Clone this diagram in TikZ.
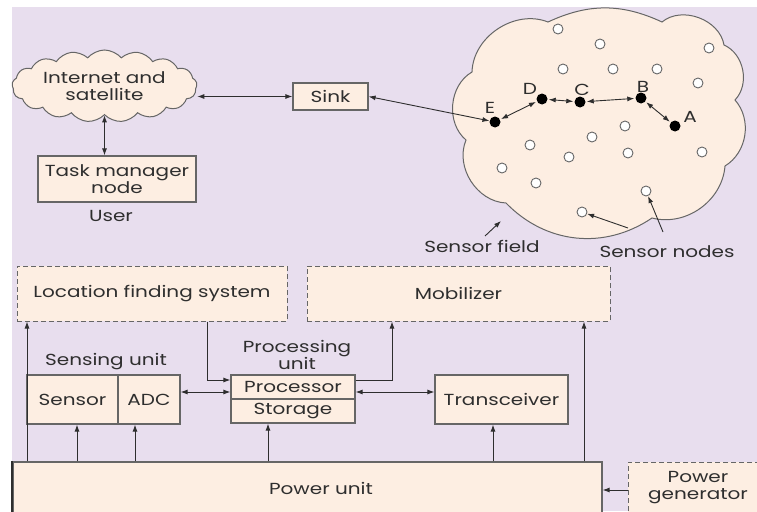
\documentclass[tikz,border=0pt]{standalone}
\usepackage{fontspec}
\setmainfont{Poppins}[FakeStretch=1.25]
\usetikzlibrary{shapes.symbols,arrows.meta,calc}
\definecolor{bg}{HTML}{E8DEEE}
\definecolor{peach}{HTML}{FDEEE2}
\definecolor{ink}{HTML}{2E2E2E}
\definecolor{edge}{HTML}{666666}
\begin{document}
\begin{tikzpicture}[x=1pt,y=-1pt,
  font=\fontsize{16}{17}\selectfont, text=ink,
  box/.style={draw=edge, line width=1.2pt, fill=peach, inner sep=0pt, align=center},
  dbox/.style={draw=edge, line width=1pt, dash pattern=on 5pt off 3pt, fill=peach, inner sep=0pt, align=center},
  tip/.tip={Latex[length=7pt,width=5pt]},
  arr/.style={draw=ink, line width=0.9pt, -tip},
  dbl/.style={draw=ink, line width=0.9pt, tip-tip},
  opennode/.style={circle, draw=edge, fill=white, line width=0.9pt, minimum size=10pt, inner sep=0pt},
  fullnode/.style={circle, fill=black, minimum size=11pt, inner sep=0pt},
  lbl/.style={inner sep=0pt, align=center}]
\useasboundingbox (0,0) rectangle (757,511);
\fill[white] (0,0) rectangle (757,511);
\fill[bg] (12,7) rectangle (757,511);

% top part
\node[cloud, cloud puffs=17, cloud puff arc=100, cloud ignores aspect, draw=edge, fill=peach, line width=1pt,
      minimum width=185pt, minimum height=72pt, inner sep=0pt, align=center] (inet) at (104.5,86) {Internet and\\satellite};
\node[box, minimum width=75pt, minimum height=27pt] (sink) at (330.5,96.5) {Sink};
\node[box, minimum width=158pt, minimum height=46pt] (tm) at (117,179) {Task manager\\node};
\node[lbl] (user) at (111,216) {User};

% sensor field outline
\draw[draw=edge, fill=peach, line width=1pt]
  (472,72) to[bend left=55] (548,22)
  to[bend left=25] (662,22)
  to[bend left=60] (724,45)
  to[bend left=55] (735,100)
  to[bend left=50] (725,166)
  to[bend left=50] (652,218)
  to[bend left=40] (506,203)
  to[bend left=55] (466,140)
  to[bend left=55] cycle;

\foreach \p [count=\i] in {(558,29),(600,44),(709,48),(563,69),(613,69),(657,69),(698,83),(625,126),(592,137),(530,145),(569,157),(628,153),(702,152),(502,168),(536,183),(646,191),(582,212)}
  \node[opennode] (o\i) at \p {};

\node[fullnode] (E) at (495,122) {};
\node[fullnode] (D) at (542,99) {};
\node[fullnode] (C) at (580,102) {};
\node[fullnode] (B) at (641,98) {};
\node[fullnode] (A) at (675,126) {};
\node[lbl] (lE) at (490,108) {E};
\node[lbl] (lD) at (530,89) {D};
\node[lbl] (lC) at (582,90) {C};
\node[lbl] (lB) at (643,87) {B};
\node[lbl] (lA) at (690,117) {A};

\node[lbl] (sfl) at (482,246) {Sensor field};
\node[lbl] (snl) at (667,252) {Sensor nodes};
\coordinate (sfa) at (485,236);
\coordinate (sfb) at (501,221);
\coordinate (sna) at (628,228);
\coordinate (snb) at (663,232);

\draw[dbl] (inet.south) -- (inet.south |- tm.north);
\draw[dbl] (sink.west -| inet.east) -- (sink.west);
\draw[dbl] (sink.east) -- (E);
\draw[dbl, shorten <=1pt, shorten >=1pt] (E) -- (D);
\draw[dbl, shorten <=1pt, shorten >=1pt] (D) -- (C);
\draw[dbl, shorten <=1pt, shorten >=1pt] (C) -- (B);
\draw[dbl, shorten <=1pt, shorten >=1pt] (B) -- (A);
\draw[arr] (sfa) -- (sfb);
\draw[arr] (sna) -- (o17);
\draw[arr] (snb) -- (o16);

% bottom part
\node[dbox, minimum width=270pt, minimum height=55pt] (loc) at (152,293.5) {Location finding system};
\node[dbox, minimum width=303pt, minimum height=55pt] (mob) at (458.5,293.5) {Mobilizer};
\node[lbl] (sensing) at (106,362) {Sensing unit};
\node[lbl] (procu) at (297,355) {Processing\\unit};
\node[box, minimum width=91pt, minimum height=49pt] (sensor) at (72.5,399.5) {Sensor};
\node[box, minimum width=62pt, minimum height=49pt] (adc) at (149,399.5) {ADC};
\node[box, minimum width=124pt, minimum height=24pt] (proc) at (293,387) {Processor};
\node[box, minimum width=124pt, minimum height=24pt] (stor) at (293,411) {Storage};
\node[box, minimum width=133pt, minimum height=49pt] (trans) at (501.5,399.5) {Transceiver};
\node[box, minimum width=589pt, minimum height=52pt] (pu) at (307.5,488) {};
\node[lbl] (putext) at (321,488) {Power unit};
\node[dbox, minimum width=140pt, minimum height=52pt] (pg) at (698,488) {Power\\generator};

\path (27,0) coordinate (xs) (77,0) coordinate (xa) (135,0) coordinate (xb)
      (268,0) coordinate (xc) (493,0) coordinate (xd) (584,0) coordinate (xe)
      (207,0) coordinate (xf) (392,0) coordinate (xg)
      (0,380) coordinate (ya) (0,392) coordinate (yb) (0,490) coordinate (yc);

\draw[arr] (pu.north -| xs) -- (loc.south -| xs);
\draw[arr] (pu.north -| xa) -- (sensor.south -| xa);
\draw[arr] (pu.north -| xb) -- (adc.south -| xb);
\draw[arr] (pu.north -| xc) -- (stor.south -| xc);
\draw[arr] (pu.north -| xd) -- (trans.south -| xd);
\draw[arr] (pu.north -| xe) -- (mob.south -| xe);
\draw[arr] (loc.south -| xf) |- (proc.west |- ya);
\draw[arr] (proc.east |- ya) -| (mob.south -| xg);
\draw[dbl] (adc.east |- yb) -- (proc.west |- yb);
\draw[dbl] (proc.east |- yb) -- (trans.west |- yb);
\draw[arr] (pg.west |- yc) -- (pu.east |- yc);
\draw[ink, line width=2pt] (pu.north west) -- (pu.south west);
\end{tikzpicture}
\end{document}
